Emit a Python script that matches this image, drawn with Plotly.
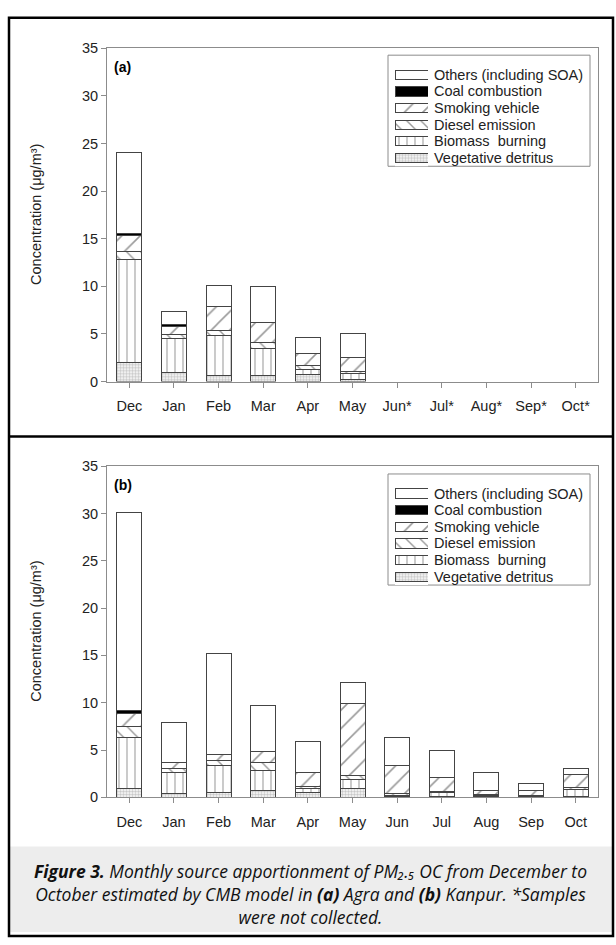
import plotly.graph_objects as go

# Months on the x axis (Agra samples were not collected from June to October)
months_agra = ["Dec", "Jan", "Feb", "Mar", "Apr", "May", "Jun*", "Jul*", "Aug*", "Sep*", "Oct*"]
months_kanpur = ["Dec", "Jan", "Feb", "Mar", "Apr", "May", "Jun", "Jul", "Aug", "Sep", "Oct"]

# Source contributions to PM2.5 OC (ug/m3), stacked bottom to top
agra_vegetative = [2.0, 1.0, 0.6, 0.6, 0.7, 0.2, None, None, None, None, None]
agra_biomass = [10.8, 3.5, 4.2, 2.9, 0.6, 0.6, None, None, None, None, None]
agra_diesel = [0.9, 0.4, 0.6, 0.6, 0.4, 0.3, None, None, None, None, None]
agra_smoking = [1.6, 0.9, 2.5, 2.1, 1.2, 1.4, None, None, None, None, None]
agra_coal = [0.3, 0.15, 0.0, 0.0, 0.0, 0.0, None, None, None, None, None]
agra_others = [8.5, 1.45, 2.2, 3.8, 1.7, 2.5, None, None, None, None, None]

kanpur_vegetative = [0.9, 0.45, 0.5, 0.7, 0.5, 0.9, 0.1, 0.1, 0.05, 0.05, 0.05]
kanpur_biomass = [5.4, 2.15, 2.9, 2.1, 0.4, 1.0, 0.15, 0.4, 0.15, 0.1, 0.8]
kanpur_diesel = [1.2, 0.5, 0.5, 0.9, 0.3, 0.4, 0.2, 0.1, 0.15, 0.1, 0.15]
kanpur_smoking = [1.4, 0.6, 0.6, 1.2, 1.4, 7.6, 2.95, 1.5, 0.35, 0.45, 1.4]
kanpur_coal = [0.25, 0.0, 0.0, 0.0, 0.0, 0.0, 0.0, 0.0, 0.0, 0.0, 0.0]
kanpur_others = [20.95, 4.2, 10.7, 4.8, 3.3, 2.2, 2.95, 2.9, 1.9, 0.8, 0.65]

source_names = ["Vegetative detritus", "Biomass  burning", "Diesel emission",
                "Smoking vehicle", "Coal combustion", "Others (including SOA)"]

y_ticks = [0, 5, 10, 15, 20, 25, 30, 35]

W, H = 616, 945
FONT = "Liberation Sans, Arial, sans-serif"
EDGE = "#444444"
AXIS = "#8c8c8c"

# Fill style for each source, in the same order as source_names
styles = [
    dict(color="white", pattern=dict(shape=".", size=3, solidity=0.55, fgcolor="#8f8f8f", bgcolor="white", fillmode="overlay")),
    dict(color="white", pattern=dict(shape="|", size=8, solidity=0.14, fgcolor="#444444", bgcolor="white", fillmode="overlay")),
    dict(color="white", pattern=dict(shape="\\", size=10, solidity=0.14, fgcolor="#333333", bgcolor="white", fillmode="overlay")),
    dict(color="white", pattern=dict(shape="/", size=13, solidity=0.12, fgcolor="#333333", bgcolor="white", fillmode="overlay")),
    dict(color="black", pattern=dict(shape="")),
    dict(color="white", pattern=dict(shape="")),
]


def px_x(p):
    return p / W


def px_y(p):
    return 1 - p / H


fig = go.Figure()

plot_left, plot_right = 107, 598
panels = [
    dict(x=months_agra, series=[agra_vegetative, agra_biomass, agra_diesel, agra_smoking, agra_coal, agra_others],
         top=41, bottom=380, label="(a)", legend_top=48, first_row=68),
    dict(x=months_kanpur, series=[kanpur_vegetative, kanpur_biomass, kanpur_diesel, kanpur_smoking, kanpur_coal, kanpur_others],
         top=466, bottom=803, label="(b)", legend_top=474, first_row=494),
]

axis_common = dict(
    showline=True, linecolor=AXIS, linewidth=1, mirror=True,
    ticks="outside", ticklen=5, tickcolor=AXIS, showgrid=False, zeroline=False,
    tickfont=dict(family=FONT, size=14.5, color="#222222"),
)
hidden_axis = dict(visible=False, showticklabels=False, showgrid=False, zeroline=False, fixedrange=True)

row_step = 16.9
swatch_left, swatch_right = 395, 428
legend_left, legend_right = 388, 590
layout_axes = {}

for k, panel in enumerate(panels):
    n = 2 * k + 1
    xa, ya = f"x{'' if n == 1 else n}", f"y{'' if n == 1 else n}"
    la, lya = f"x{n + 1}", f"y{n + 1}"

    # Stacked monthly bars
    for name, values, st in zip(source_names, panel["series"], styles):
        fig.add_trace(go.Bar(
            x=panel["x"], y=values, name=name, xaxis=xa, yaxis=ya, showlegend=False,
            width=0.56,
            marker=dict(color=st["color"], pattern=st["pattern"], line=dict(color=EDGE, width=1)),
        ))

    layout_axes[f"xaxis{'' if n == 1 else n}"] = dict(
        domain=[px_x(plot_left), px_x(plot_right)], anchor=ya, type="category",
        categoryorder="array", categoryarray=panel["x"], range=[-0.5, 10.5],
        ticklabelstandoff=6, **axis_common)
    layout_axes[f"yaxis{'' if n == 1 else n}"] = dict(
        domain=[px_y(panel["bottom"]), px_y(panel["top"])], anchor=xa, range=[0, 35],
        tickvals=y_ticks, **axis_common)

    # Key: one patterned swatch per source, Others on the top row
    rows_top = panel["first_row"] - row_step / 2
    rows_bottom = panel["first_row"] + 5.5 * row_step
    for i, (name, st) in enumerate(zip(source_names, styles)):
        row = len(source_names) - 1 - i
        fig.add_trace(go.Bar(
            x=[1], y=[row], orientation="h", base=0, width=0.56, xaxis=la, yaxis=lya,
            showlegend=False, hoverinfo="skip",
            marker=dict(color=st["color"], pattern=st["pattern"], line=dict(color=EDGE, width=1)),
        ))
        fig.add_annotation(text=name, xref="paper", yref="paper",
                           x=px_x(432), y=px_y(panel["first_row"] + row * row_step),
                           xanchor="left", yanchor="middle", showarrow=False,
                           font=dict(family=FONT, size=14.5, color="#222222"))
    layout_axes[f"xaxis{n + 1}"] = dict(domain=[px_x(swatch_left), px_x(swatch_right)], anchor=lya,
                                        range=[0, 1], **hidden_axis)
    layout_axes[f"yaxis{n + 1}"] = dict(domain=[px_y(rows_bottom), px_y(rows_top)], anchor=la,
                                        range=[5.5, -0.5], **hidden_axis)
    fig.add_shape(type="rect", xref="paper", yref="paper",
                  x0=px_x(legend_left), x1=px_x(legend_right),
                  y0=px_y(panel["first_row"] + 5 * row_step + 8.5), y1=px_y(panel["legend_top"]),
                  line=dict(color=AXIS, width=1), fillcolor="rgba(0,0,0,0)", layer="below")

    # Panel letter and y-axis title
    fig.add_annotation(text=f"<b>{panel['label']}</b>", xref="paper", yref="paper",
                       x=px_x(112), y=px_y(panel["top"] + 19), xanchor="left", yanchor="middle",
                       showarrow=False, font=dict(family=FONT, size=14, color="black"))
    fig.add_annotation(text="Concentration (μg/m³)", xref="paper", yref="paper",
                       x=px_x(36), y=px_y((panel["top"] + panel["bottom"]) / 2), textangle=-90,
                       xanchor="center", yanchor="middle",
                       showarrow=False, font=dict(family=FONT, size=14.5, color="#222222"))

fig.update_layout(
    width=W, height=H, margin=dict(l=0, r=0, t=0, b=0),
    paper_bgcolor="white", plot_bgcolor="white",
    barmode="stack", showlegend=False,
    font=dict(family=FONT, color="#222222"),
    **layout_axes,
)

# Outer frame, panel separator and caption band
fig.add_shape(type="rect", xref="paper", yref="paper", x0=px_x(10), x1=px_x(613), y0=px_y(853), y1=px_y(940),
              fillcolor="#ededed", line=dict(width=0), layer="below")
fig.add_shape(type="rect", xref="paper", yref="paper", x0=px_x(9), x1=px_x(613), y0=px_y(944), y1=px_y(10),
              line=dict(color="black", width=2.5))
fig.add_shape(type="line", xref="paper", yref="paper", x0=px_x(9), x1=px_x(613), y0=px_y(436), y1=px_y(436),
              line=dict(color="black", width=2.5))

# Figure caption as one centred three-line block
caption = (
    "<b><i>Figure 3.</i></b><i> Monthly source apportionment of PM₂.₅ OC from December to</i><br>"
    "<i>October estimated by CMB model in </i><b><i>(a)</i></b><i> Agra and </i><b><i>(b)</i></b><i> Kanpur. *Samples</i><br>"
    "<i>were not collected.</i>"
)
fig.add_annotation(text=caption, xref="paper", yref="paper", x=px_x(310), y=px_y(901.5),
                   xanchor="center", yanchor="middle", align="center",
                   showarrow=False, font=dict(family="Open Sans, Lato, sans-serif", size=17.5, color="#111111"))

fig.write_html("out.html")
